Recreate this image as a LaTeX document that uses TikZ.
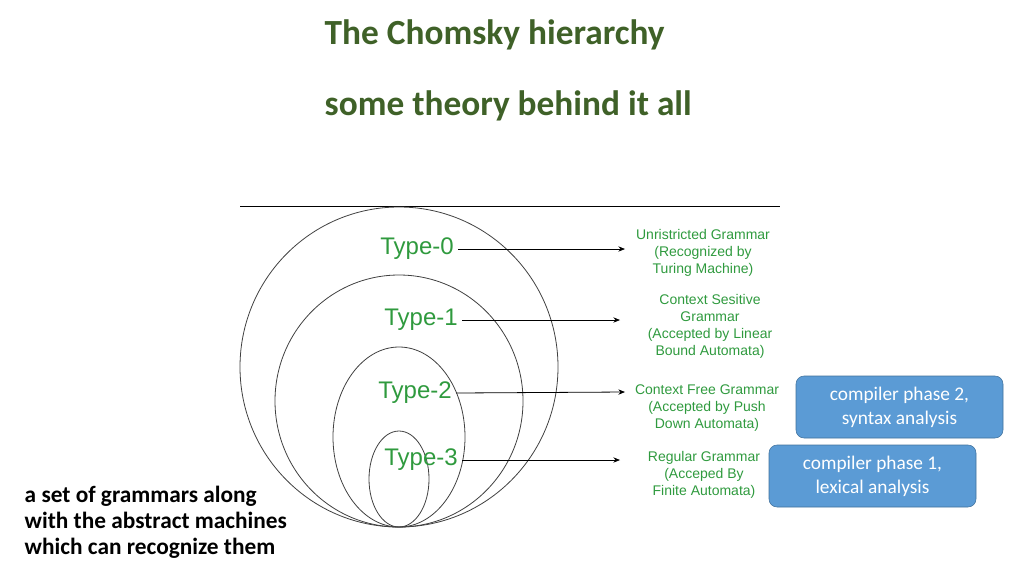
\documentclass[tikz,border=0pt]{standalone}
\usepackage{fontspec}
\setmainfont{Liberation Sans}
\newfontfamily\carl{Carlito}
\usetikzlibrary{arrows.meta}
\definecolor{ttl}{HTML}{3F6128}
\definecolor{grn}{HTML}{2F9A3E}
\definecolor{bx}{HTML}{5B9BD5}
\definecolor{bxd}{HTML}{41719C}
\begin{document}
\begin{tikzpicture}[x=0.75pt,y=-0.75pt,
  ttlst/.style={font=\carl\bfseries\fontsize{26.5}{30}\selectfont,text=ttl,anchor=west},
  typ/.style={font=\fontsize{18}{21}\selectfont,text=grn},
  lab/.style={font=\fontsize{10.5}{12.8}\selectfont,text=grn,align=center},
  arr/.style={-{Stealth[length=5pt,width=4pt]},black,line width=0.6pt},
  circ/.style={draw=black!75,line width=0.6pt},
  bluebox/.style={draw=bxd,fill=bx,rounded corners=6pt,text=white,align=center,font=\carl\fontsize{14.5}{18}\selectfont,minimum width=207*0.75pt,minimum height=62*0.75pt}]
\useasboundingbox (0,0) rectangle (1024,576);
\node[ttlst] (t1) at (320,35) {The Chomsky hierarchy};
\node[ttlst] (t2) at (320,106) {some theory behind it all};
\draw[line width=0.6pt] (240,206) -- (780,206);
\draw[circ] (399,367) ellipse [x radius=159*0.75pt, y radius=160*0.75pt];
\draw[circ] (399,401) ellipse [x radius=124*0.75pt, y radius=126*0.75pt];
\draw[circ] (399,437) ellipse [x radius=66*0.75pt, y radius=90*0.75pt];
\draw[circ] (399,479) ellipse [x radius=30*0.75pt, y radius=48*0.75pt];
\node[typ] (y0) at (417,249) {Type-0};
\node[typ] (y1) at (421,320) {Type-1};
\node[typ] (y2) at (415,393) {Type-2};
\node[typ] (y3) at (421,460) {Type-3};
\node[lab] (l0) at (703,253) {Unristricted Grammar\\(Recognized by\\Turing Machine)};
\node[lab] (l1) at (710,326) {Context Sesitive\\Grammar\\(Accepted by Linear\\Bound Automata)};
\node[lab] (l2) at (707,408) {Context Free Grammar\\(Accepted by Push\\Down Automata)};
\node[lab] (l3) at (704,475) {Regular Grammar\\(Acceped By\\Finite Automata)};
\draw[arr] (y0.east) -- (625,249);
\draw[arr] (y1.east) -- (620,320);
\draw[arr] (y2.east) -- (625,392);
\draw[arr] (y3.east) -- (620,460);
\node[bluebox] (b2) at (899.5,407) {compiler phase 2,\\syntax analysis};
\node[bluebox] (b1) at (872.5,476) {compiler phase 1,\\lexical analysis};
\node[anchor=north west,align=left,font=\carl\bfseries\fontsize{17.5}{19.5}\selectfont] (s) at (20,481) {a set of grammars along\\with the abstract machines\\which can recognize them};
\end{tikzpicture}
\end{document}
